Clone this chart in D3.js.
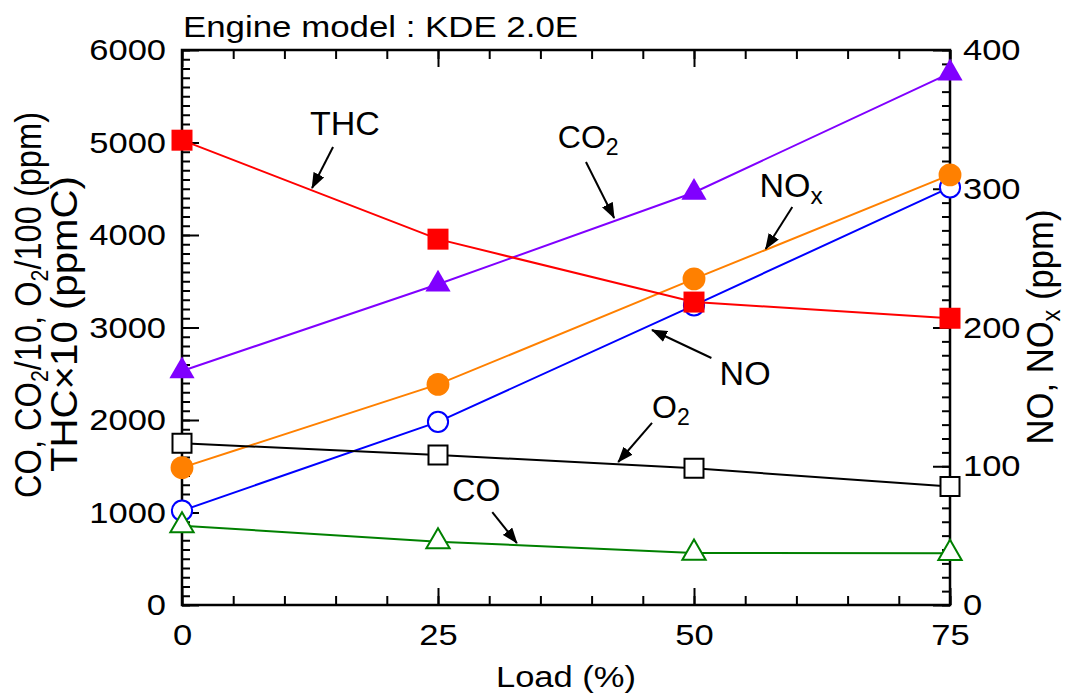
<!doctype html>
<html>
<head>
<script src="https://d3js.org/d3.v7.min.js"></script>
<style>
    body { margin: 0; background: #fff; }
    text { font-family: "Liberation Sans", Arial, sans-serif; fill: #000; }
</style>
</head>
<body>
<svg width="1065" height="700"></svg>
<script>
// data
var load = [0, 25, 50, 75];
var thc = [5025, 3955, 3275, 3100];      // THC x10 (ppmC), left axis
var co2 = [2530, 3467, 4460, 5750];      // CO2/10, left axis
var o2  = [1748, 1622, 1478, 1280];      // O2/100, left axis
var co  = [858, 685, 562, 559];          // CO, left axis
var nox = [99, 159, 235, 310];           // NOx, right axis
var no  = [68, 132, 216, 301];           // NO, right axis

var xTicks = [0, 25, 50, 75];
var yTicks = [0, 1000, 2000, 3000, 4000, 5000, 6000];
var y2Ticks = [0, 100, 200, 300, 400];

var svg = d3.select("svg"),
    plotL = 182, plotR = 950, plotT = 50, plotB = 605,
    SX = 1.15;

var xScale = d3.scaleLinear().domain([0, 75]).range([plotL, plotR]),
    yScale = d3.scaleLinear().domain([0, 6000]).range([plotB, plotT]),
    y2Scale = d3.scaleLinear().domain([0, 400]).range([plotB, plotT]);

svg.append("rect").attr("width", 1065).attr("height", 700).attr("fill", "#fff");

// text in the figure is wider than Arial, stretch it a bit
function stretch() {
    var w = this.getComputedTextLength();
    d3.select(this).attr("textLength", w * SX).attr("lengthAdjust", "spacingAndGlyphs");
}

function drawAxis(axis, tr, labels) {
    var g = svg.append("g").attr("transform", tr).call(axis);
    g.select(".domain").remove();
    g.selectAll("line").attr("stroke", "#000").attr("stroke-width", 2);
    g.attr("font-size", 30).attr("font-family", "Liberation Sans, Arial, sans-serif");
    if (labels) g.selectAll("text").attr("fill", "#000").each(stretch);
    return g;
}

var fmt = d3.format("d");

// minor ticks
drawAxis(d3.axisBottom(xScale).tickValues(d3.range(0, 76, 5)).tickSize(-9).tickFormat(""), "translate(0," + plotB + ")");
drawAxis(d3.axisTop(xScale).tickValues(d3.range(0, 76, 5)).tickSize(-9).tickFormat(""), "translate(0," + plotT + ")");
drawAxis(d3.axisLeft(yScale).tickValues(d3.range(0, 6001, 100)).tickSize(-8).tickFormat(""), "translate(" + plotL + ",0)");
drawAxis(d3.axisRight(y2Scale).tickValues(d3.range(0, 401, 10)).tickSize(-8).tickFormat(""), "translate(" + plotR + ",0)");

// major ticks + labels
drawAxis(d3.axisBottom(xScale).tickValues(xTicks).tickFormat(fmt).tickSizeInner(-17).tickSizeOuter(0).tickPadding(19), "translate(0," + plotB + ")", true);
drawAxis(d3.axisTop(xScale).tickValues(xTicks).tickSizeInner(-17).tickSizeOuter(0).tickFormat(""), "translate(0," + plotT + ")");
drawAxis(d3.axisLeft(yScale).tickValues(yTicks).tickFormat(fmt).tickSizeInner(-17).tickSizeOuter(0).tickPadding(16), "translate(" + plotL + ",0)", true);
drawAxis(d3.axisRight(y2Scale).tickValues(y2Ticks).tickFormat(fmt).tickSizeInner(-17).tickSizeOuter(0).tickPadding(13), "translate(" + plotR + ",0)", true);

// frame
svg.append("rect")
    .attr("x", plotL).attr("y", plotT)
    .attr("width", plotR - plotL).attr("height", plotB - plotT)
    .attr("fill", "none").attr("stroke", "#000").attr("stroke-width", 2.5);

// series, drawn in this order so overlaps look like the original
var series = [
    { vals: no,  y: y2Scale, color: "#0000ff", sym: d3.symbolCircle,   size: 320, filled: false },
    { vals: nox, y: y2Scale, color: "#ff8000", sym: d3.symbolCircle,   size: 410, filled: true },
    { vals: o2,  y: yScale,  color: "#000000", sym: d3.symbolSquare,   size: 361, filled: false },
    { vals: co,  y: yScale,  color: "#008000", sym: d3.symbolTriangle, size: 235, filled: false },
    { vals: co2, y: yScale,  color: "#8000ff", sym: d3.symbolTriangle, size: 275, filled: true },
    { vals: thc, y: yScale,  color: "#ff0000", sym: d3.symbolSquare,   size: 441, filled: true }
];

series.forEach(function(s) {
    var line = d3.line()
        .x(function(d, i) { return xScale(load[i]); })
        .y(function(d) { return s.y(d); });
    svg.append("path").datum(s.vals)
        .attr("d", line)
        .attr("fill", "none").attr("stroke", s.color).attr("stroke-width", 2);
    svg.selectAll(null).data(s.vals).enter().append("path")
        .attr("transform", function(d, i) { return "translate(" + xScale(load[i]) + "," + s.y(d) + ")"; })
        .attr("d", d3.symbol().type(s.sym).size(s.size))
        .attr("fill", s.filled ? s.color : "#fff")
        .attr("stroke", s.color).attr("stroke-width", s.filled ? 0 : 2);
});

// arrow heads
svg.append("defs").append("marker")
    .attr("id", "head").attr("viewBox", "0 0 16 12")
    .attr("refX", 15).attr("refY", 6)
    .attr("markerUnits", "userSpaceOnUse")
    .attr("markerWidth", 16).attr("markerHeight", 12)
    .attr("orient", "auto")
    .append("path").attr("d", "M0,0 L16,6 L0,12 Z").attr("fill", "#000");

// annotations, placed in data coordinates (load, left axis value)
var notes = [
    { text: "THC", sub: "",  at: [12.5, 5081], fs: 34, from: [14.75, 4951], to: [12.7, 4508] },
    { text: "CO",  sub: "2", at: [36.7, 4941], fs: 32, from: [39.45, 4789], to: [42.2, 4184] },
    { text: "NO",  sub: "x", at: [56.4, 4411], fs: 34, from: [59.6, 4303], to: [57.0, 3849] },
    { text: "NO",  sub: "",  at: [52.5, 2378], fs: 34, from: [51.7, 2670], to: [45.9, 2973] },
    { text: "O",   sub: "2", at: [45.9, 2022], fs: 32, from: [45.9, 1968], to: [42.6, 1546] },
    { text: "CO",  sub: "",  at: [26.4, 1124], fs: 32, from: [30.3, 1005], to: [32.7, 670] }
];

notes.forEach(function(n) {
    var t = svg.append("text")
        .attr("x", xScale(n.at[0])).attr("y", yScale(n.at[1]))
        .attr("font-size", n.fs);
    t.append("tspan").text(n.text);
    if (n.sub) t.append("tspan").attr("font-size", n.fs * 0.72).attr("dy", 7).text(n.sub);
    svg.append("line")
        .attr("x1", xScale(n.from[0])).attr("y1", yScale(n.from[1]))
        .attr("x2", xScale(n.to[0])).attr("y2", yScale(n.to[1]))
        .attr("stroke", "#000").attr("stroke-width", 2)
        .attr("marker-end", "url(#head)");
});

// title
svg.append("text")
    .attr("x", 183).attr("y", 37)
    .attr("font-size", 30)
    .attr("textLength", 395).attr("lengthAdjust", "spacingAndGlyphs")
    .text("Engine model : KDE 2.0E");

// x label
svg.append("text")
    .attr("x", (plotL + plotR) / 2).attr("y", 687)
    .attr("text-anchor", "middle").attr("font-size", 30)
    .text("Load (%)")
    .each(stretch);

// left y label, two lines
var yl1 = svg.append("text")
    .attr("transform", "translate(41,305) scale(" + SX + ",1) rotate(-90)")
    .attr("text-anchor", "middle").attr("font-size", 32)
    .attr("textLength", 386).attr("lengthAdjust", "spacingAndGlyphs");
yl1.append("tspan").text("CO, CO");
yl1.append("tspan").attr("font-size", 21).attr("dy", 6).text("2");
yl1.append("tspan").attr("dy", -6).text("/10, O");
yl1.append("tspan").attr("font-size", 21).attr("dy", 6).text("2");
yl1.append("tspan").attr("dy", -6).text("/100 (ppm)");

svg.append("text")
    .attr("transform", "translate(77,324) scale(" + SX + ",1) rotate(-90)")
    .attr("text-anchor", "middle").attr("font-size", 32)
    .attr("textLength", 296).attr("lengthAdjust", "spacingAndGlyphs")
    .text("THC\u00d710 (ppmC)");

// right y label
var yr = svg.append("text")
    .attr("transform", "translate(1053,327) scale(" + SX + ",1) rotate(-90)")
    .attr("text-anchor", "middle").attr("font-size", 32)
    .attr("textLength", 235).attr("lengthAdjust", "spacingAndGlyphs");
yr.append("tspan").text("NO, NO");
yr.append("tspan").attr("font-size", 22).attr("dy", 6).text("x");
yr.append("tspan").attr("dy", -6).text(" (ppm)");
</script>
</body>
</html>
